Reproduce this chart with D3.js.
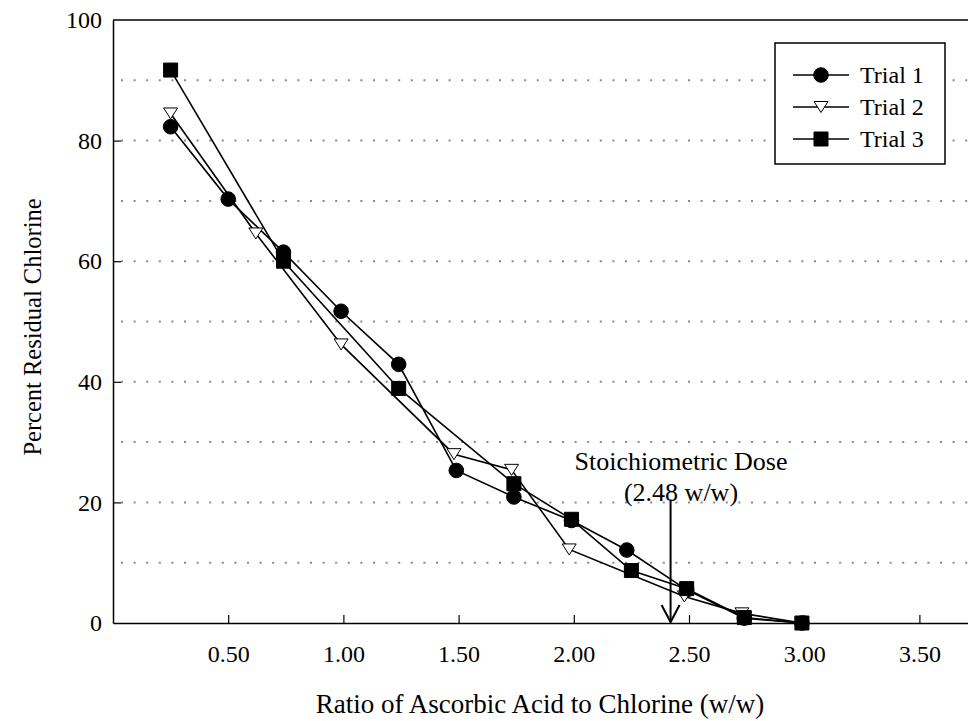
<!DOCTYPE html>
<html>
<head>
<meta charset="utf-8">
<script src="https://cdn.jsdelivr.net/npm/d3@7"></script>
<style>
  body { margin: 0; background: #fff; }
  svg { display: block; font-family: "Liberation Serif", "Times New Roman", serif; }
</style>
</head>
<body>
<svg id="vis" width="968" height="721"></svg>
<script>
// chart values
var trial1X = [0.25, 0.50, 0.74, 0.99, 1.24, 1.49, 1.74, 1.99, 2.23, 2.49, 2.74, 2.99];
var trial1Y = [82.3, 70.3, 61.5, 51.7, 42.9, 25.3, 20.9, 17.0, 12.1, 5.5, 0.8, 0];

var trial2X = [0.25, 0.62, 0.99, 1.48, 1.73, 1.98, 2.48, 2.73, 2.99];
var trial2Y = [84.5, 64.6, 46.2, 28.0, 25.4, 12.2, 4.4, 1.6, 0];

var trial3X = [0.25, 0.74, 1.24, 1.74, 1.99, 2.25, 2.49, 2.74, 2.99];
var trial3Y = [91.7, 60.0, 38.9, 23.1, 17.2, 8.7, 5.7, 0.9, 0];

var seriesNames = ['Trial 1', 'Trial 2', 'Trial 3'];
var xTicks = [0.5, 1.0, 1.5, 2.0, 2.5, 3.0, 3.5];
var yTicks = [0, 20, 40, 60, 80, 100];
var yGrid = [10, 20, 30, 40, 50, 60, 70, 80, 90];

var arrowX = 2.42;   // where the arrow is drawn
var arrowTop = 20.5;
var noteLines = ['Stoichiometric Dose', '(2.48 w/w)'];

var xLabel = 'Ratio of Ascorbic Acid to Chlorine (w/w)';
var yLabel = 'Percent Residual Chlorine';

var svg = d3.select('#vis');

//plot box (window.top is read-only, so don't name it top)
var plotLeft = 113, plotTop = 20, plotBottom = 623;

var x = d3.scaleLinear().domain([0, 3.75]).range([plotLeft, plotLeft + 3.75 * 230.4]);
var y = d3.scaleLinear().domain([0, 100]).range([plotBottom, plotTop]);

// dotted grid
svg.append('g')
    .selectAll('line')
    .data(yGrid)
    .enter()
    .append('line')
    .attr('x1', plotLeft + 8)
    .attr('x2', 968)
    .attr('y1', function(d){ return y(d); })
    .attr('y2', function(d){ return y(d); })
    .attr('stroke', '#8a8a8a')
    .attr('stroke-width', 2)
    .attr('stroke-dasharray', '2,10.6');

// axes, ticks point inward
var xAxis = svg.append('g')
    .attr('transform', 'translate(0,' + plotBottom + ')')
    .call(d3.axisBottom(x).tickValues(xTicks).tickFormat(d3.format('.2f')).tickSizeInner(-8).tickSizeOuter(0).tickPadding(22));

var yAxis = svg.append('g')
    .attr('transform', 'translate(' + plotLeft + ',0)')
    .call(d3.axisLeft(y).tickValues(yTicks).tickSizeInner(-8).tickSizeOuter(0).tickPadding(11));

[xAxis, yAxis].forEach(function(a){
    a.select('.domain').attr('stroke', '#000').attr('stroke-width', 1.5);
    a.selectAll('.tick line').attr('stroke', '#000').attr('stroke-width', 1.2);
    a.selectAll('.tick text')
        .attr('fill', '#000')
        .style('font-family', '"Liberation Serif", serif')
        .style('font-size', '24px');
});
yAxis.selectAll('.tick line').filter(function(d){ return d === 0 || d === 100; }).remove();

// top border
svg.append('line')
    .attr('x1', plotLeft).attr('x2', 968)
    .attr('y1', y(100)).attr('y2', y(100))
    .attr('stroke', '#000').attr('stroke-width', 1.5);

// axis titles
svg.append('text')
    .attr('x', 540)
    .attr('y', 713)
    .attr('text-anchor', 'middle')
    .style('font-size', '27px')
    .text(xLabel);

svg.append('text')
    .attr('transform', 'translate(41,' + 327 + ') rotate(-90)')
    .attr('text-anchor', 'middle')
    .style('font-size', '24.5px')
    .text(yLabel);

// marker drawing
var symbols = [
    d3.symbol().type(d3.symbolCircle).size(Math.PI * 7.3 * 7.3),
    function(){ return 'M-7,-5.5L7,-5.5L0,5.5Z'; },
    d3.symbol().type(d3.symbolSquare).size(14 * 14)
];
var fills = ['#000', '#fff', '#000'];

var seriesData = [
    trial1X.map(function(d, i){ return [d, trial1Y[i]]; }),
    trial2X.map(function(d, i){ return [d, trial2Y[i]]; }),
    trial3X.map(function(d, i){ return [d, trial3Y[i]]; })
];

var line = d3.line()
    .x(function(d){ return x(d[0]); })
    .y(function(d){ return y(d[1]); });

seriesData.forEach(function(data, s){
    var g = svg.append('g');
    g.append('path')
        .attr('d', line(data))
        .attr('fill', 'none')
        .attr('stroke', '#000')
        .attr('stroke-width', 1.6);
    g.selectAll('path.pt')
        .data(data)
        .enter()
        .append('path')
        .attr('class', 'pt')
        .attr('transform', function(d){ return 'translate(' + x(d[0]) + ',' + y(d[1]) + ')'; })
        .attr('d', symbols[s])
        .attr('fill', fills[s])
        .attr('stroke', '#000')
        .attr('stroke-width', 1);
});

// stoichiometric dose arrow
var ax = x(arrowX);
svg.append('line')
    .attr('x1', ax).attr('x2', ax)
    .attr('y1', y(arrowTop)).attr('y2', y(0) - 1)
    .attr('stroke', '#000').attr('stroke-width', 2);
svg.append('path')
    .attr('d', 'M' + (ax - 9) + ',' + (y(0) - 18) + 'L' + ax + ',' + (y(0) - 1) + 'L' + (ax + 9) + ',' + (y(0) - 18))
    .attr('fill', 'none')
    .attr('stroke', '#000')
    .attr('stroke-width', 2);

svg.selectAll('text.note')
    .data(noteLines)
    .enter()
    .append('text')
    .attr('class', 'note')
    .attr('x', 681)
    .attr('y', function(d, i){ return 470 + i * 31; })
    .attr('text-anchor', 'middle')
    .style('font-size', '26px')
    .text(function(d){ return d; });

// legend
var legend = svg.append('g');
legend.append('rect')
    .attr('x', 775).attr('y', 43)
    .attr('width', 170).attr('height', 121)
    .attr('fill', '#fff')
    .attr('stroke', '#000')
    .attr('stroke-width', 1.5);

var rows = legend.selectAll('g.row')
    .data(seriesNames)
    .enter()
    .append('g')
    .attr('class', 'row')
    .attr('transform', function(d, i){ return 'translate(0,' + (75 + i * 32) + ')'; });

rows.append('line')
    .attr('x1', 793).attr('x2', 849)
    .attr('stroke', '#000').attr('stroke-width', 1.6);

rows.append('path')
    .attr('transform', 'translate(821,0)')
    .attr('d', function(d, i){ return symbols[i](); })
    .attr('fill', function(d, i){ return fills[i]; })
    .attr('stroke', '#000')
    .attr('stroke-width', 1);

rows.append('text')
    .attr('x', 860)
    .attr('y', 8)
    .style('font-size', '24px')
    .text(function(d){ return d; });
</script>
</body>
</html>
